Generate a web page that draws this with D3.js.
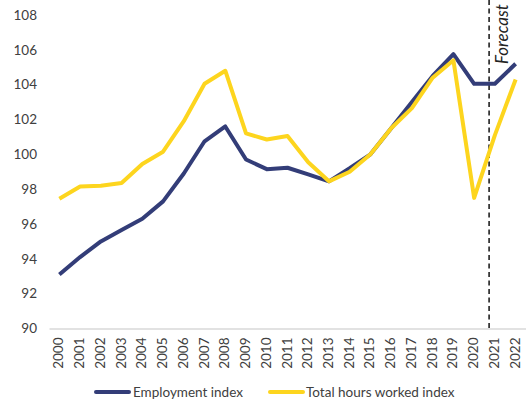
<!DOCTYPE html>
<html><head><meta charset="utf-8">
<script src="https://cdn.jsdelivr.net/npm/d3@7"></script>
<style>body{margin:0;background:#fff}svg{display:block}</style>
</head><body><svg id="c" width="526" height="403"></svg>
<script>
const years = ["2000","2001","2002","2003","2004","2005","2006","2007","2008","2009","2010","2011","2012","2013","2014","2015","2016","2017","2018","2019","2020","2021","2022"];
const employmentIndex = [93.1,94.1,95.0,95.65,96.3,97.3,98.9,100.75,101.6,99.7,99.15,99.23,98.85,98.45,99.2,100.0,101.5,103.0,104.5,105.75,104.05,104.05,105.2];
const totalHoursIndex = [97.45,98.15,98.2,98.35,99.45,100.15,101.9,104.05,104.8,101.2,100.85,101.05,99.55,98.45,99.0,100.0,101.5,102.65,104.4,105.4,97.5,101.1,104.3];
const yTicks = [90,92,94,96,98,100,102,104,106,108];
const seriesNames = ["Employment index","Total hours worked index"];
const colors = ["#333d78","#fdd51e"];
const forecastLabel = "Forecast";
const forecastAt = 20.72; // index position of the forecast divider

const svg = d3.select("#c");
const font = "Lato, 'Open Sans', sans-serif";
const x = d3.scaleBand().domain(years).range([49, 526]);
const xc = d => x(d) + x.bandwidth()/2;
const y = d3.scaleLinear().domain([90,108]).range([328.5, 15]);

// y axis labels
const ya = svg.append("g").attr("transform","translate(37,0)")
  .call(d3.axisLeft(y).tickValues(yTicks).tickSize(0).tickPadding(0));
ya.select(".domain").remove();
ya.selectAll("text").attr("font-family",font).attr("font-size",13.5).attr("fill","#404040");

// x axis
const xa = svg.append("g").attr("transform","translate(0,328.5)")
  .call(d3.axisBottom(x).tickSize(0).tickPadding(0));
xa.select(".domain").attr("stroke","#d9d9d9").attr("stroke-width",1.5);
xa.selectAll("text").attr("font-family",font).attr("font-size",13.5).attr("fill","#404040")
  .attr("text-anchor","end").attr("dy",null)
  .attr("transform","translate(4,9) rotate(-90)");

// forecast line
const fx = x(years[0]) + x.bandwidth()/2 + forecastAt * x.step();
svg.append("line").attr("x1",fx).attr("x2",fx).attr("y1",0).attr("y2",328.5)
  .attr("stroke","#000").attr("stroke-width",1.4).attr("stroke-dasharray","5,3.5");
svg.append("text").attr("transform",`translate(${fx+19},64) rotate(-90)`)
  .attr("font-family",font).attr("font-size",17).attr("font-style","italic").attr("fill","#222")
  .text(forecastLabel);

// lines
const line = d3.line().x((d,i)=>xc(years[i])).y(d=>y(d));
[employmentIndex,totalHoursIndex].forEach((s,k)=>{
  svg.append("path").datum(s).attr("d",line).attr("fill","none")
    .attr("stroke",colors[k]).attr("stroke-width",4).attr("stroke-linejoin","round");
});
// legend
const lg = [{x:96,w:33,tx:133},{x:270,w:33,tx:306}];
seriesNames.forEach((n,k)=>{
  svg.append("line").attr("x1",lg[k].x).attr("x2",lg[k].x+lg[k].w).attr("y1",392).attr("y2",392)
    .attr("stroke",colors[k]).attr("stroke-width",4).attr("stroke-linecap","round");
  svg.append("text").attr("x",lg[k].tx).attr("y",397).attr("font-family",font).attr("font-size",13.5)
    .attr("fill","#404040").text(n);
});
</script></body></html>
